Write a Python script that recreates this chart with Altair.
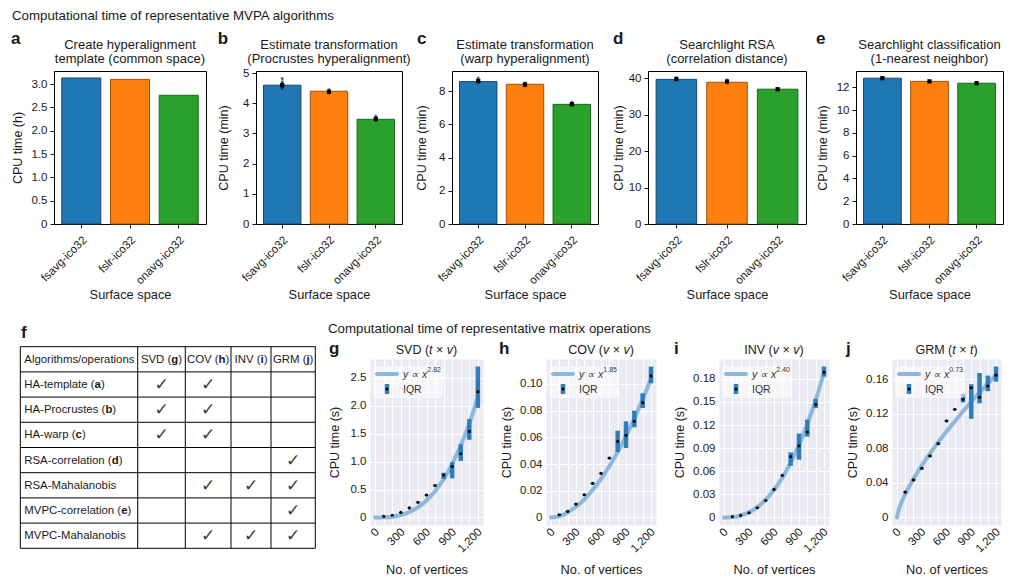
import altair as alt
import pandas as pd

FONT = "Liberation Sans"
INK = "#1a1a1a"

# ---------------- data: panels a-e ----------------
surfaces = ["fsavg-ico32", "fslr-ico32", "onavg-ico32"]
bar_fill = ["#1f77b4", "#ff7f0e", "#2ca02c"]
bar_edge = ["#16466d", "#99500f", "#1c641c"]
run_color = ["#12395a", "#8a4510", "#175a17"]

a_hours = [3.13, 3.10, 2.76]
b_minutes = [4.60, 4.40, 3.47]
c_minutes = [8.58, 8.42, 7.21]
d_minutes = [39.7, 38.9, 37.0]
e_minutes = [12.80, 12.52, 12.36]

b_means = [4.60, 4.38, 3.48]
c_means = [8.62, 8.41, 7.22]
d_means = [39.8, 39.1, 37.0]
e_means = [12.80, 12.52, 12.36]

b_runs_fsavg = [4.48, 4.53, 4.57, 4.62, 4.66, 4.71, 4.82]
b_runs_fslr = [4.33, 4.36, 4.40, 4.43, 4.46]
b_runs_onavg = [3.42, 3.45, 3.49, 3.53, 3.58]
c_runs_fsavg = [8.50, 8.56, 8.63, 8.70, 8.80]
c_runs_fslr = [8.32, 8.38, 8.44, 8.50]
c_runs_onavg = [7.12, 7.19, 7.26, 7.33]
d_runs_fsavg = [39.5, 39.9, 40.2]
d_runs_fslr = [38.7, 39.2, 39.6]
d_runs_onavg = [36.8, 37.1]
e_runs_fsavg = [12.74, 12.82, 12.88]
e_runs_fslr = [12.49, 12.55]
e_runs_onavg = [12.32, 12.40]

# ---------------- data: panels g-j ----------------
n_vertices = [100, 200, 300, 400, 500, 600, 700, 800, 900, 1000, 1100, 1200]
fit_n = [0, 25, 50, 100, 200, 300, 400, 500, 600, 700, 800, 900, 1000, 1100, 1200]

svd_med = [0.02, 0.04, 0.09, 0.17, 0.27, 0.40, 0.57, 0.76, 0.91, 1.14, 1.54, 2.25]
svd_q1 = [0.018, 0.036, 0.085, 0.165, 0.262, 0.39, 0.56, 0.69, 0.70, 1.01, 1.39, 1.96]
svd_q3 = [0.022, 0.044, 0.095, 0.178, 0.28, 0.41, 0.59, 0.80, 0.99, 1.31, 1.76, 2.70]
svd_fit = [0, 0, 0.0001, 0.002, 0.014, 0.043, 0.097, 0.182, 0.304, 0.47, 0.685, 0.955, 1.286, 1.68, 2.15]

cov_med = [0.002, 0.0045, 0.010, 0.017, 0.0255, 0.033, 0.0445, 0.057, 0.0615, 0.072, 0.086, 0.106]
cov_q1 = [0.0015, 0.004, 0.0095, 0.0165, 0.025, 0.0325, 0.044, 0.049, 0.052, 0.0675, 0.082, 0.1005]
cov_q3 = [0.0025, 0.005, 0.0105, 0.0175, 0.026, 0.0335, 0.045, 0.065, 0.072, 0.080, 0.093, 0.113]
cov_fit = [0, 0.00008, 0.0003, 0.00105, 0.0038, 0.0080, 0.0136, 0.0206, 0.0288, 0.0384, 0.0491, 0.0611, 0.0742, 0.0885, 0.104]

inv_med = [0.001, 0.0026, 0.006, 0.0126, 0.022, 0.0364, 0.0546, 0.079, 0.093, 0.111, 0.1466, 0.1886]
inv_q1 = [0.0008, 0.0023, 0.0055, 0.012, 0.0215, 0.0355, 0.054, 0.067, 0.075, 0.105, 0.142, 0.183]
inv_q3 = [0.0012, 0.0029, 0.0065, 0.0132, 0.0225, 0.0373, 0.0552, 0.0845, 0.109, 0.127, 0.154, 0.196]
inv_fit = [0, 0, 0.00002, 0.0005, 0.0026, 0.0067, 0.0135, 0.023, 0.0356, 0.0515, 0.0711, 0.0943, 0.1214, 0.1526, 0.188]

grm_med = [0.0293, 0.0434, 0.0568, 0.0712, 0.0853, 0.1116, 0.125, 0.1368, 0.150, 0.139, 0.152, 0.1646]
grm_q1 = [0.0285, 0.0425, 0.0555, 0.070, 0.0845, 0.111, 0.1245, 0.133, 0.114, 0.132, 0.146, 0.157]
grm_q3 = [0.030, 0.0445, 0.058, 0.072, 0.0865, 0.1125, 0.1255, 0.143, 0.154, 0.167, 0.164, 0.1745]
grm_fit = [0, 0.0098, 0.0162, 0.0269, 0.0446, 0.060, 0.074, 0.0871, 0.0995, 0.111, 0.1227, 0.1338, 0.1444, 0.1548, 0.165]

# ---------------- data: table f ----------------
ops = ["HA-template", "HA-Procrustes", "HA-warp", "RSA-correlation",
       "RSA-Mahalanobis", "MVPC-correlation", "MVPC-Mahalanobis"]
op_panel = ["a", "b", "c", "d", "", "e", ""]
matrix_ops = ["SVD", "COV", "INV", "GRM"]
matrix_panel = ["g", "h", "i", "j"]
uses_svd = [1, 1, 1, 0, 0, 0, 0]
uses_cov = [1, 1, 1, 0, 1, 0, 1]
uses_inv = [0, 0, 0, 0, 1, 0, 1]
uses_grm = [0, 0, 0, 1, 1, 1, 1]

# ---------------- layout ----------------
TOP_W = [152, 146, 146, 158, 147]
TOP_H = 153
TOP_GAP = 50
BOT_W = [113, 110, 110, 109]
BOT_H = 166
BOT_GAP = 63
TABLE_LEFT = 53      # page x of table chart origin (aligned with panel a origin)
TABLE_W = 369 - BOT_GAP - TABLE_LEFT
TABLE_TOP = 358      # page y of table chart origin
col_edges = [19.3, 136.7, 184.3, 230.0, 270.0, 314.3]
row_edges = [345.7 + 25.2 * k for k in range(9)]
FIT_C = "#8db8dc"
IQR_C = "#2f7ebc"

ONE = alt.Data(values=[{"k": 0}])

W_REG = {' ': 278, '(': 333, ')': 333, '-': 333, '/': 278, '×': 584, '∝': 713, '.': 278, ',': 278,
         'A': 667, 'B': 667, 'C': 722, 'D': 722, 'E': 667, 'F': 611, 'G': 778, 'H': 722, 'I': 278,
         'M': 833, 'N': 722, 'O': 778, 'P': 667, 'R': 722, 'S': 667, 'T': 611, 'U': 722, 'V': 667,
         'a': 556, 'b': 556, 'c': 500, 'd': 556, 'e': 556, 'f': 278, 'g': 556, 'h': 556, 'i': 222,
         'j': 222, 'k': 500, 'l': 222, 'm': 833, 'n': 556, 'o': 556, 'p': 556, 'q': 556, 'r': 333,
         's': 500, 't': 278, 'u': 556, 'v': 500, 'w': 722, 'x': 500, 'y': 500, 'z': 500}
W_BOLD = {'a': 556, 'b': 611, 'c': 556, 'd': 611, 'e': 556, 'g': 611, 'h': 611, 'i': 278, 'j': 278}


def text_width(s, size, bold=False):
    tbl = W_BOLD if bold else W_REG
    return sum(tbl.get(ch, W_REG.get(ch, 556)) for ch in s) * size / 1000.0


def label(text, x, y, size=12, weight="normal", style="normal", align="left",
          baseline="alphabetic", color=INK, font=FONT):
    return alt.Chart(ONE).mark_text(
        text=text, fontSize=size, fontWeight=weight, fontStyle=style, align=align,
        baseline=baseline, color=color, font=font
    ).encode(x=alt.value(x), y=alt.value(y))


def rich(pieces, cx, y, size):
    widths = [text_width(t, size, st == "b") for t, st in pieces]
    x = cx - sum(widths) / 2.0
    out = []
    for (t, st), w in zip(pieces, widths):
        lead = len(t) - len(t.lstrip(" "))
        out.append(label(t.strip(" "), x + text_width(" " * lead, size), y, size=size,
                         weight="bold" if st == "b" else "normal",
                         style="italic" if st == "i" else "normal"))
        x += w
    return out


def num_fmt(dec):
    if dec == 0:
        return "format(datum.value, 'd')"
    return f"datum.value === 0 ? '0' : format(datum.value, '.{dec}f')"


# ---------------- top bar panels ----------------
def top_panel(idx, letter, title_lines, ylab, vals, ymax, ticks, dec, letter_dx, ytitle_dx,
              means=None, runs=None, extra=None):
    W, H = TOP_W[idx], TOP_H
    df = pd.DataFrame({"surface": surfaces, "value": vals})
    xsc = alt.Scale(domain=surfaces, paddingInner=0.2, paddingOuter=0.16)
    ysc = alt.Scale(domain=[0, ymax], nice=False, zero=True)
    xax = alt.Axis(labelAngle=-45, labelAlign="right", labelBaseline="middle",
                   labelPadding=10, labelOffset=4, ticks=True, tickSize=4, tickColor=INK,
                   domain=False, labelFontSize=11.5, titleFontSize=12.8, titleX=W / 2, titleY=70,
                   titleAlign="center", titleBaseline="middle", labelOverlap=False)
    yax = alt.Axis(values=ticks, labelExpr=num_fmt(dec), tickSize=4, tickColor=INK,
                   domain=False, grid=False, labelPadding=3, labelFontSize=11.5,
                   titleFontSize=12.5, titleX=ytitle_dx, titleY=H / 2, titleAngle=-90,
                   titleAlign="center", titleBaseline="middle", labelOverlap=False,
                   labelFlush=False)

    def X():
        return alt.X("surface:N", sort=surfaces, title="Surface space", scale=xsc, axis=xax)

    def Y():
        return alt.Y("value:Q", title=ylab, scale=ysc, axis=yax)

    bars = alt.Chart(df).mark_bar(strokeWidth=1).encode(
        x=X(), y=Y(),
        fill=alt.Fill("surface:N", scale=alt.Scale(domain=surfaces, range=bar_fill), legend=None),
        stroke=alt.Stroke("surface:N", scale=alt.Scale(domain=surfaces, range=bar_edge), legend=None),
    )
    layers = [bars]
    if runs is not None:
        rdf = pd.DataFrame([{"surface": s, "value": v} for s, vs in zip(surfaces, runs) for v in vs])
        layers.append(alt.Chart(rdf).mark_circle(size=9, opacity=0.75).encode(
            x=X(), y=Y(),
            color=alt.Color("surface:N", scale=alt.Scale(domain=surfaces, range=run_color), legend=None)))
    if means is not None:
        mdf = pd.DataFrame({"surface": surfaces, "value": means})
        layers.append(alt.Chart(mdf).mark_point(shape="square", filled=True, size=18, color="black",
                                                opacity=1).encode(x=X(), y=Y()))
    layers.append(label(letter, letter_dx, -27, size=17, weight="bold"))
    layers.append(label(title_lines[0], W / 2, -22, size=13, align="center"))
    layers.append(label(title_lines[1], W / 2, -8, size=13, align="center"))
    if extra:
        layers += extra
    return alt.layer(*layers).properties(
        width=W, height=H, view=alt.ViewBackground(stroke="black", strokeWidth=1, fill="white"))


panel_a = top_panel(0, "a", ["Create hyperalignment", "template (common space)"], "CPU time (h)",
                    a_hours, 3.28, [0, 0.5, 1.0, 1.5, 2.0, 2.5, 3.0], 1, -43, -36.3,
                    extra=[label("Computational time of representative MVPA algorithms", -42, -51, size=13.3)])
panel_b = top_panel(1, "b", ["Estimate transformation", "(Procrustes hyperalignment)"], "CPU time (min)",
                    b_minutes, 5.07, [0, 1, 2, 3, 4, 5], 0, -38.3, -32.5, means=b_means,
                    runs=[b_runs_fsavg, b_runs_fslr, b_runs_onavg])
panel_c = top_panel(2, "c", ["Estimate transformation", "(warp hyperalignment)"], "CPU time (min)",
                    c_minutes, 9.22, [0, 2, 4, 6, 8], 0, -35, -31, means=c_means,
                    runs=[c_runs_fsavg, c_runs_fslr, c_runs_onavg])
panel_d = top_panel(3, "d", ["Searchlight RSA", "(correlation distance)"], "CPU time (min)",
                    d_minutes, 42.0, [0, 10, 20, 30, 40], 0, -35, -30, means=d_means,
                    runs=[d_runs_fsavg, d_runs_fslr, d_runs_onavg])
panel_e = top_panel(4, "e", ["Searchlight classification", "(1-nearest neighbor)"], "CPU time (min)",
                    e_minutes, 13.43, [0, 2, 4, 6, 8, 10, 12], 0, -40, -34, means=e_means,
                    runs=[e_runs_fsavg, e_runs_fslr, e_runs_onavg])


# ---------------- bottom scatter panels ----------------
def bottom_panel(idx, letter, title_pieces, med, q1, q3, fit, expo, ydom, yticks, dec,
                 letter_dx, ytitle_dx, extra=None):
    W, H = BOT_W[idx], BOT_H
    pts = pd.DataFrame({"n": n_vertices, "med": med, "q1": q1, "q3": q3})
    fdf = pd.DataFrame({"n": fit_n, "fit": fit})
    xsc = alt.Scale(domain=[-60, 1260], nice=False, zero=False)
    ysc = alt.Scale(domain=ydom, nice=False, zero=False)
    xax = alt.Axis(values=list(range(0, 1201, 100)),
                   labelExpr="datum.value % 300 === 0 ? format(datum.value, ',') : ''",
                   labelAngle=-45, labelAlign="right", labelBaseline="middle", labelPadding=5,
                   labelOffset=2, ticks=False, domain=False, grid=True, gridColor="white",
                   gridWidth=1, labelOverlap=False, labelFlush=False, labelFontSize=11.5,
                   titleFontSize=12.8, titleX=W / 2, titleY=44, titleAlign="center",
                   titleBaseline="middle")
    yax = alt.Axis(values=yticks, labelExpr=num_fmt(dec), ticks=False, domain=False, grid=True,
                   gridColor="white", gridWidth=1, labelPadding=4, labelOverlap=False,
                   labelFlush=False, labelFontSize=11.5, titleFontSize=12.5, titleX=ytitle_dx,
                   titleY=H / 2, titleAngle=-90, titleAlign="center", titleBaseline="middle")
    xt, yt = "No. of vertices", "CPU time (s)"

    def X():
        return alt.X("n:Q", scale=xsc, axis=xax, title=xt)

    def Y(f):
        return alt.Y(f, scale=ysc, axis=yax, title=yt)

    line = alt.Chart(fdf).mark_line(color=FIT_C, strokeWidth=4, strokeCap="round",
                                    interpolate="monotone").encode(x=X(), y=Y("fit:Q"))
    iqr = alt.Chart(pts).mark_rule(color=IQR_C, strokeWidth=4.5).encode(
        x=X(), y=Y("q1:Q"), y2="q3:Q")
    dots = alt.Chart(pts).mark_circle(color="black", size=10, opacity=1).encode(
        x=X(), y=Y("med:Q"))
    legend = [
        alt.Chart(ONE).mark_rect(fill="white", opacity=0.55, cornerRadius=3).encode(
            x=alt.value(3), x2=alt.value(73), y=alt.value(7), y2=alt.value(39)),
        alt.Chart(ONE).mark_rule(color=FIT_C, strokeWidth=4, strokeCap="round").encode(
            x=alt.value(7), x2=alt.value(27), y=alt.value(15)),
        alt.Chart(ONE).mark_rule(color=IQR_C, strokeWidth=4.5).encode(
            x=alt.value(17), y=alt.value(25), y2=alt.value(35)),
        alt.Chart(ONE).mark_circle(color="black", size=10, opacity=1).encode(
            x=alt.value(17), y=alt.value(30)),
        label("y ∝ x", 33, 18.5, size=10.5, style="italic", color="#333333"),
        label(expo, 33 + text_width("y ∝ x", 10.5) + 0.5, 13, size=7, color="#333333"),
        label("IQR", 33, 33.5, size=10.5, color="#333333"),
    ]
    layers = [line, iqr, dots] + legend
    layers.append(label(letter, letter_dx, -5, size=17, weight="bold"))
    layers += rich(title_pieces, W / 2, -5, 12.5)
    if extra:
        layers += extra
    return alt.layer(*layers).properties(
        width=W, height=H, view=alt.ViewBackground(fill="#eaeaf2", stroke="transparent"))


panel_g = bottom_panel(0, "g", [("SVD (", "n"), ("t", "i"), (" × ", "n"), ("v", "i"), (")", "n")],
                       svd_med, svd_q1, svd_q3, svd_fit, "2.82", [-0.135, 2.835],
                       [0, 0.5, 1.0, 1.5, 2.0, 2.5], 1, -41, -36,
                       extra=[label("Computational time of representative matrix operations", -42, -26, size=13.3)])
panel_h = bottom_panel(1, "h", [("COV (", "n"), ("v", "i"), (" × ", "n"), ("v", "i"), (")", "n")],
                       cov_med, cov_q1, cov_q3, cov_fit, "1.85", [-0.00565, 0.1187],
                       [0, 0.02, 0.04, 0.06, 0.08, 0.10], 2, -47, -40)
panel_i = bottom_panel(2, "i", [("INV (", "n"), ("v", "i"), (" × ", "n"), ("v", "i"), (")", "n")],
                       inv_med, inv_q1, inv_q3, inv_fit, "2.40", [-0.0098, 0.2058],
                       [0, 0.03, 0.06, 0.09, 0.12, 0.15, 0.18], 2, -45, -39.5)
panel_j = bottom_panel(3, "j", [("GRM (", "n"), ("t", "i"), (" × ", "n"), ("t", "i"), (")", "n")],
                       grm_med, grm_q1, grm_q3, grm_fit, "0.73", [-0.0087, 0.1832],
                       [0, 0.04, 0.08, 0.12, 0.16], 2, -46, -40)

# ---------------- table f ----------------
tx = alt.Scale(domain=[TABLE_LEFT, TABLE_LEFT + TABLE_W], nice=False, zero=False)
ty = alt.Scale(domain=[TABLE_TOP, TABLE_TOP + BOT_H], nice=False, zero=False, reverse=True)

hl = pd.DataFrame({"y": row_edges, "x1": [col_edges[0]] * len(row_edges),
                   "x2": [col_edges[-1]] * len(row_edges)})
vl = pd.DataFrame({"x": col_edges, "y1": [row_edges[0]] * len(col_edges),
                   "y2": [row_edges[-1]] * len(col_edges)})
row_c = [(row_edges[k] + row_edges[k + 1]) / 2 + 0.5 for k in range(8)]
col_c = [(col_edges[k] + col_edges[k + 1]) / 2 for k in range(5)]
TS = 11.4

pieces = [{"x": 23.3, "y": row_c[0], "text": "Algorithms/operations", "w": "n"}]
for k, (nm, lt) in enumerate(zip(matrix_ops, matrix_panel)):
    pp = [(nm + " (", "n"), (lt, "b"), (")", "n")]
    ws = [text_width(t, TS, s == "b") for t, s in pp]
    x = col_c[k + 1] - sum(ws) / 2
    for (t, s), w in zip(pp, ws):
        pieces.append({"x": x, "y": row_c[0], "text": t, "w": s})
        x += w
for r, (op, p) in enumerate(zip(ops, op_panel)):
    pp = [(op + " (", "n"), (p, "b"), (")", "n")] if p else [(op, "n")]
    x = 23.3
    for t, s in pp:
        pieces.append({"x": x, "y": row_c[r + 1], "text": t, "w": s})
        x += text_width(t, TS, s == "b")
pdf = pd.DataFrame(pieces)

checks = []
for ci, col in enumerate([uses_svd, uses_cov, uses_inv, uses_grm]):
    for r, used in enumerate(col):
        if used:
            checks.append({"x": col_c[ci + 1], "y": row_c[r + 1], "text": "✓"})
cdf = pd.DataFrame(checks)

TX = alt.X("x:Q", scale=tx, axis=None)
TY = alt.Y("y:Q", scale=ty, axis=None)
t_h = alt.Chart(hl).mark_rule(color="black", strokeWidth=1).encode(
    x=alt.X("x1:Q", scale=tx, axis=None), x2="x2:Q", y=TY)
t_v = alt.Chart(vl).mark_rule(color="black", strokeWidth=1).encode(
    x=TX, y=alt.Y("y1:Q", scale=ty, axis=None), y2="y2:Q")
t_norm = alt.Chart(pdf).transform_filter("datum.w === 'n'").mark_text(
    align="left", baseline="middle", fontSize=TS, font=FONT, color=INK).encode(
    x=TX, y=TY, text="text:N")
t_bold = alt.Chart(pdf).transform_filter("datum.w === 'b'").mark_text(
    align="left", baseline="middle", fontSize=TS, font=FONT, fontWeight="bold", color=INK).encode(
    x=TX, y=TY, text="text:N")
t_chk = alt.Chart(cdf).mark_text(
    align="center", baseline="middle", fontSize=17, font="DejaVu Sans", color="#3a3a3a").encode(
    x=TX, y=TY, text="text:N")
table = alt.layer(
    t_h, t_v, t_norm, t_bold, t_chk,
    label("f", 20 - TABLE_LEFT, 336.7 - TABLE_TOP, size=17, weight="bold"),
).properties(width=TABLE_W, height=BOT_H, view=alt.ViewBackground(stroke="transparent"))

row1 = alt.hconcat(panel_a, panel_b, panel_c, panel_d, panel_e, spacing=TOP_GAP, bounds="flush")
row2 = alt.hconcat(table, panel_g, panel_h, panel_i, panel_j, spacing=BOT_GAP, bounds="flush")

chart = alt.vconcat(row1, row2, spacing=19).properties(
    padding={"left": 2, "top": 0, "right": 2, "bottom": 0}
).configure(font=FONT).configure_axis(
    labelFont=FONT, titleFont=FONT, labelColor=INK, titleColor=INK, titleFontWeight="normal"
)

chart.save("out.html", embed_options={"renderer": "svg", "actions": False})
